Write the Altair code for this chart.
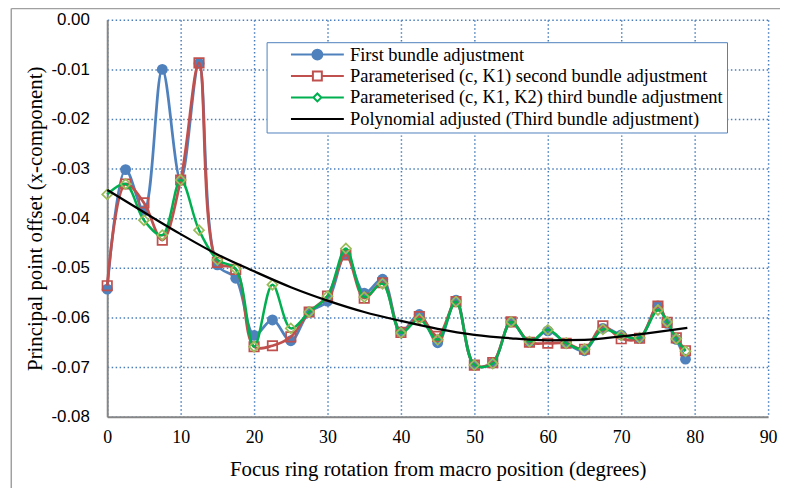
import altair as alt
import pandas as pd

# ---------------- data ----------------
deg = [0, 2.5, 5, 7.5, 10, 12.5, 15, 17.5, 20, 22.5, 25, 27.5, 30, 32.5, 35, 37.5,
       40, 42.5, 45, 47.5, 50, 52.5, 55, 57.5, 60, 62.5, 65, 67.5, 70, 72.5, 75,
       76.25, 77.5, 78.75]

first_ba = [-0.0543, -0.0302, -0.0385, -0.0100, -0.0323, -0.0088, -0.0494, -0.0521,
            -0.0636, -0.0605, -0.0647, -0.0589, -0.0567, -0.0472, -0.0551, -0.0523,
            -0.0629, -0.0594, -0.0651, -0.0565, -0.0696, -0.0692, -0.0609, -0.0650,
            -0.0627, -0.0652, -0.0667, -0.0622, -0.0635, -0.0642, -0.0577, -0.0612,
            -0.0644, -0.0684]

second_ba = [-0.0536, -0.0331, -0.0369, -0.0444, -0.0323, -0.0087, -0.0489, -0.0503,
             -0.0659, -0.0657, -0.0639, -0.0589, -0.0557, -0.0474, -0.0561, -0.0530,
             -0.0630, -0.0598, -0.0638, -0.0568, -0.0696, -0.0691, -0.0609, -0.0650,
             -0.0652, -0.0652, -0.0664, -0.0617, -0.0643, -0.0642, -0.0577, -0.0610,
             -0.0641, -0.0667]

third_ba = [-0.0352, -0.0331, -0.0404, -0.0434, -0.0323, -0.0424, -0.0484, -0.0502,
            -0.0659, -0.0534, -0.0622, -0.0589, -0.0557, -0.0461, -0.0559, -0.0532,
            -0.0631, -0.0603, -0.0645, -0.0568, -0.0696, -0.0693, -0.0609, -0.0649,
            -0.0625, -0.0652, -0.0664, -0.0624, -0.0636, -0.0641, -0.0585, -0.0609,
            -0.0643, -0.0668]

poly_deg = [0, 5, 10, 15, 20, 25, 30, 35, 40, 45, 50, 55, 60, 65, 70, 75, 79]
poly_val = [-0.0343, -0.0388, -0.0432, -0.0473, -0.0507, -0.0539, -0.0566, -0.0589,
            -0.0607, -0.0623, -0.0635, -0.0642, -0.0646, -0.0645, -0.0638, -0.0629,
            -0.0621]

series_names = [
    "First bundle adjustment",
    "Parameterised (c, K1) second bundle adjustment",
    "Parameterised (c, K1, K2) third bundle adjustment",
    "Polynomial adjusted (Third bundle adjustment)",
]
series_colors = ["#4F81BD", "#C0504D", "#00B050", "#000000"]
legend_fills = ["#4F81BD", "white", "white", "white"]

x_ticks = [0, 10, 20, 30, 40, 50, 60, 70, 80, 90]
y_ticks = [0.0, -0.01, -0.02, -0.03, -0.04, -0.05, -0.06, -0.07, -0.08]

rows = []
for name, vals in zip(series_names[:3], [first_ba, second_ba, third_ba]):
    for d, v in zip(deg, vals):
        rows.append({"deg": d, "value": v, "series": name})
for d, v in zip(poly_deg, poly_val):
    rows.append({"deg": d, "value": v, "series": series_names[3]})
df = pd.DataFrame(rows)

SERIF = "Liberation Serif"
SANS = "Liberation Sans"

# ---------------- legend symbols (line + marker) ----------------
p_circle = "M-0.466,0H1M0.128,0A0.138,0.138 0 1,0 0.404,0A0.138,0.138 0 1,0 0.128,0Z"
p_square = "M-0.466,0H0.142M0.390,0H1M0.142,-0.124H0.390V0.124H0.142Z"
p_diamond = "M-0.466,0H0.156M0.376,0H1M0.156,0L0.266,-0.11L0.376,0L0.266,0.11Z"
p_line = "M-0.466,0H1"
legend_shapes = [p_circle, p_square, p_diamond, p_line]


def make_legend():
    return alt.Legend(
        title=None,
        orient="none",
        legendX=160.6,
        legendY=22.6,
        direction="vertical",
        fillColor="white",
        strokeColor="#4F81BD",
        padding=4,
        rowPadding=1.6,
        symbolSize=5285,
        symbolStrokeWidth=2,
        symbolOpacity=1,
        clipHeight=17,
        labelOffset=5,
        labelFont=SERIF,
        labelFontSize=18.6,
        labelColor="black",
        labelLimit=600,
    )


x_enc = alt.X(
    "deg:Q",
    scale=alt.Scale(domain=[0, 90], nice=False),
    axis=alt.Axis(
        values=x_ticks,
        title="Focus ring rotation from macro position (degrees)",
        titleFont=SERIF,
        titleFontSize=21,
        titleFontWeight="normal",
        titleColor="black",
        titleY=59,
        titleBaseline="alphabetic",
        labelFont=SERIF,
        labelFontSize=18,
        labelColor="black",
        labelBaseline="alphabetic",
        labelPadding=26,
        ticks=False,
        domainColor="#868686",
        domainWidth=2,
        grid=True,
        gridColor="#4A7EBB",
        gridDash=[1.5, 2.5],
        gridWidth=1.5,
        labelFlush=False,
    ),
)

y_enc = alt.Y(
    "value:Q",
    scale=alt.Scale(domain=[-0.08, 0], nice=False),
    axis=alt.Axis(
        values=y_ticks,
        labelExpr="replace(format(datum.value, '.2f'), '\u2212', '-')",
        title="Principal point offset (x-component)",
        titleFont=SERIF,
        titleFontSize=21,
        titleFontWeight="normal",
        titleColor="black",
        titleAngle=-90,
        titleX=-66.5,
        titleY=200,
        titleBaseline="alphabetic",
        titleAlign="center",
        labelFont=SANS,
        labelFontSize=17,
        labelColor="black",
        labelPadding=18,
        ticks=False,
        domainColor="#868686",
        domainWidth=2,
        grid=True,
        gridColor="#4A7EBB",
        gridDash=[1.5, 2.5],
        gridWidth=1.5,
        labelFlush=False,
    ),
)

base = alt.Chart(df)


def line_layer(idx, width, interp):
    return (
        base.transform_filter(alt.datum.series == series_names[idx])
        .mark_line(strokeWidth=width, interpolate=interp, color=series_colors[idx])
        .encode(x=x_enc, y=y_enc, order="deg:Q")
    )


def point_layer(idx, **kw):
    return (
        base.transform_filter(alt.datum.series == series_names[idx])
        .mark_point(**kw)
        .encode(x=x_enc, y=y_enc)
    )


# invisible layer that only carries the legend (line + marker symbols)
legend_layer = base.mark_point(opacity=0, filled=False).encode(
    x=x_enc,
    y=y_enc,
    stroke=alt.Stroke("series:N", scale=alt.Scale(domain=series_names, range=series_colors),
                      legend=make_legend()),
    fill=alt.Fill("series:N", scale=alt.Scale(domain=series_names, range=legend_fills),
                  legend=make_legend()),
    shape=alt.Shape("series:N", scale=alt.Scale(domain=series_names, range=legend_shapes),
                    legend=make_legend()),
)

l_blue = line_layer(0, 2.75, "catmull-rom")
p_blue = point_layer(0, shape="circle", filled=True, size=120,
                     color=series_colors[0], opacity=1)
l_red = line_layer(1, 2.75, "catmull-rom")
p_red = point_layer(1, shape="square", filled=False, size=90,
                    color=series_colors[1], strokeWidth=1.75, opacity=1)
l_green = line_layer(2, 2.5, "catmull-rom")
p_green = point_layer(2, shape="diamond", filled=False, size=100,
                      color="#9BBB59", strokeWidth=1.75, opacity=1)
l_poly = line_layer(3, 2.25, "monotone")

frame_left = alt.Chart().mark_rule(color="#a0a0a0", strokeWidth=1.5).encode(
    x=alt.value(-96.7), y=alt.value(-11.3), y2=alt.value(480)
)
frame_top = alt.Chart().mark_rule(color="#a0a0a0", strokeWidth=1.5).encode(
    x=alt.value(-96.7), x2=alt.value(690), y=alt.value(-11.3)
)

chart = (
    alt.layer(frame_left, frame_top, l_blue, p_blue, l_red, p_red,
              l_green, p_green, l_poly, legend_layer)
    .properties(width=666, height=400, autosize="none",
                padding={"left": 100, "top": 10, "right": 12, "bottom": 70},
                background="white")
    .configure_view(stroke=None)
)

chart.save("out.html", embed_options={"renderer": "svg", "actions": False})
